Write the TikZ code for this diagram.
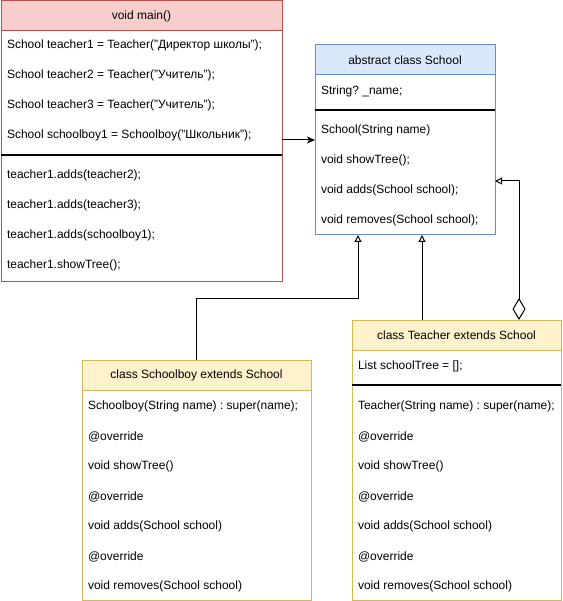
\documentclass[tikz,border=0pt]{standalone}
\usepackage{fontspec}
\setmainfont{Liberation Sans}
\usetikzlibrary{arrows.meta}
\definecolor{redfill}{HTML}{F8CECC}
\definecolor{redline}{HTML}{B85450}
\definecolor{bluefill}{HTML}{DAE8FC}
\definecolor{blueline}{HTML}{6C8EBF}
\definecolor{yelfill}{HTML}{FFF2CC}
\definecolor{yelline}{HTML}{D6B656}
\frenchspacing
\begin{document}
\begin{tikzpicture}[x=1pt,y=-1pt,
  every node/.style={font=\fontsize{12pt}{14pt}\selectfont, inner sep=0pt, outer sep=0pt},
  hdr/.style={draw, line width=1pt, anchor=north west, minimum height=30pt},
  bodybox/.style={draw, line width=1pt, anchor=north west, fill=white},
  txt/.style={anchor=west, yshift=-0.7pt},
  sepline/.style={line width=2pt, black},
  conn/.style={line width=1pt, black},
  inh/.style={conn, -{Triangle[open, length=7pt, width=7pt, fill=white]}},
  assoc/.style={conn, -{Stealth[length=8pt, width=7pt, inset=2pt]}},
  aggr/.style={conn, {Diamond[open, length=22pt, width=13pt, fill=white]}-{Triangle[open, length=7pt, width=7pt, fill=white]}}
]
\useasboundingbox (0,0) rectangle (562,601);

% ---- void main() ----
\node[bodybox, draw=redline, minimum width=281pt, minimum height=250pt] (mainB) at (1,31) {};
\node[hdr, draw=redline, fill=redfill, minimum width=281pt] (mainH) at (1,1) {void main()};
\node[txt] (m1) at (7,45) {School teacher1 = Teacher("Директор школы");};
\node[txt] (m2) at (7,75) {School teacher2 = Teacher("Учитель");};
\node[txt] (m3) at (7,105) {School teacher3 = Teacher("Учитель");};
\node[txt] (m4) at (7,135) {School schoolboy1 = Schoolboy("Школьник");};
\draw[sepline] (1,155) -- (282,155);
\node[txt] (m5) at (7,175) {teacher1.adds(teacher2);};
\node[txt] (m6) at (7,205) {teacher1.adds(teacher3);};
\node[txt] (m7) at (7,235) {teacher1.adds(schoolboy1);};
\node[txt] (m8) at (7,265) {teacher1.showTree();};

% ---- abstract class School ----
\node[bodybox, draw=blueline, minimum width=180pt, minimum height=160pt] (schoolB) at (315,75) {};
\node[hdr, draw=blueline, fill=bluefill, minimum width=180pt] (schoolH) at (315,45) {abstract class School};
\node[txt] (s1) at (321,91) {String? \_name;};
\draw[sepline] (315,110) -- (495,110);
\node[txt] (s2) at (321,130) {School(String name)};
\node[txt] (s3) at (321,160) {void showTree();};
\node[txt] (s4) at (321,190) {void adds(School school);};
\node[txt] (s5) at (321,220) {void removes(School school);};

% ---- class Schoolboy ----
\node[bodybox, draw=yelline, minimum width=229pt, minimum height=210pt] (boyB) at (82,390) {};
\node[hdr, draw=yelline, fill=yelfill, minimum width=229pt] (boyH) at (82,360) {class Schoolboy extends School};
\node[txt] (b1) at (88,406) {Schoolboy(String name) : super(name);};
\node[txt] (b2) at (88,436) {@override};
\node[txt] (b3) at (88,466) {void showTree()};
\node[txt] (b4) at (88,496) {@override};
\node[txt] (b5) at (88,526) {void adds(School school)};
\node[txt] (b6) at (88,556) {@override};
\node[txt] (b7) at (88,586) {void removes(School school)};

% ---- class Teacher ----
\node[bodybox, draw=yelline, minimum width=209pt, minimum height=250pt] (teaB) at (352,350) {};
\node[hdr, draw=yelline, fill=yelfill, minimum width=209pt] (teaH) at (352,320) {class Teacher extends School};
\node[txt] (t0) at (358,366) {List schoolTree = [];};
\draw[sepline] (352,385) -- (561,385);
\node[txt] (t1) at (358,406) {Teacher(String name) : super(name);};
\node[txt] (t2) at (358,436) {@override};
\node[txt] (t3) at (358,466) {void showTree()};
\node[txt] (t4) at (358,496) {@override};
\node[txt] (t5) at (358,526) {void adds(School school)};
\node[txt] (t6) at (358,556) {@override};
\node[txt] (t7) at (358,586) {void removes(School school)};

% ---- connectors ----
\draw[assoc] (mainB.east |- 0,140) -- (schoolB.west |- 0,140);
\draw[inh] (boyH.north) |- (358,298) -- (schoolB.south -| 358,0);
\draw[inh] (teaH.north -| 422,0) -- (schoolB.south -| 422,0);
\draw[aggr] (teaH.north -| 519,0) |- (schoolB.east |- 0,181);
\end{tikzpicture}
\end{document}
